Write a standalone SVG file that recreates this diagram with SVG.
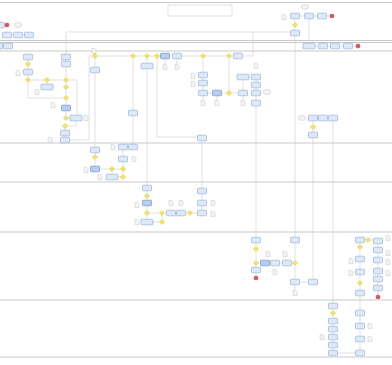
<svg xmlns="http://www.w3.org/2000/svg" xmlns:xlink="http://www.w3.org/1999/xlink" width="392" height="365" viewBox="0 0 392 365">
<style>
.lane{stroke:#c9c9c9;stroke-width:1;fill:none}
.c{stroke:#cdcdcd;stroke-width:0.6;fill:none}
.t{fill:#dfe8f7;stroke:#85a9dc;stroke-width:0.6}
.td{fill:#b9cdee;stroke:#5f88c9;stroke-width:0.6}
.g{fill:#f4e45e;stroke:#c8b43c;stroke-width:0.4}
.e{fill:#e2504f;stroke:#b83434;stroke-width:0.5}
.d{fill:#f4f4f4;stroke:#b9b9b9;stroke-width:0.4}
.box{fill:#fff;stroke:#c3c3c3;stroke-width:0.5}
</style>
<defs>
<rect id="T" x="-4.5" y="-2.8" width="9" height="5.6" rx="0.8"/>
<rect id="W" x="-6" y="-2.8" width="12" height="5.6" rx="0.8"/>
<path id="G" d="M0,-2.6L2.6,0L0,2.6L-2.6,0Z"/>
<circle id="E" r="2"/>
<path id="D" d="M-2,-2.6H0.8L2,-1.4V2.6H-2Z"/>
<ellipse id="C" rx="3.8" ry="2.4"/>
</defs>
<rect width="392" height="365" fill="#fff"/>
<g id="lanes">
<line class="lane" x1="0" y1="2.5" x2="392" y2="2.5"/>
<line class="lane" x1="0" y1="40.5" x2="392" y2="40.5"/>
<line class="lane" x1="0" y1="42.5" x2="392" y2="42.5"/>
<line class="lane" x1="0" y1="51" x2="392" y2="51"/>
<line class="lane" x1="0" y1="143" x2="392" y2="143"/>
<line class="lane" x1="0" y1="182" x2="392" y2="182"/>
<line class="lane" x1="0" y1="232" x2="392" y2="232"/>
<line class="lane" x1="0" y1="300" x2="392" y2="300"/>
<line class="lane" x1="0" y1="357" x2="392" y2="357"/>
</g>
<g id="title"><rect class="box" x="168" y="5" width="64" height="11"/></g>
<g id="connectors">
<path class="c" d="M4.5,25H5M11.5,35H13.5M22.5,35H24.5"/>
<path class="c" d="M66,54.2V32H295M295,18.8V22.4M295,27.6V30.2M299.5,16H304.5M313.5,16H317.5M326.5,16H330"/>
<path class="c" d="M309,18.8V43.2M313.5,46H318.5M327.5,46H330.5M339.5,46H343.5M352.5,46H356"/>
<path class="c" d="M295,35.8V237.2"/>
<path class="c" d="M28,59.8V61.4M28,66.6V69.2M28,74.8V77.4M30.6,80H44.4M49.6,80H63.4M47,82.6V84.2M28,82.6V98H63.4M66,59.8V61.2M66,66.8V77.4M66,82.6V84.4M66,89.6V95.4M66,100.6V105.2M66,110.8V115.4M68.6,118H70M68.6,80H77V115.2"/>
<path class="c" d="M76,120.8V126H67.6M65,128.6V130.2M65,135.8V137.2M69.5,140H89V56H92.4"/>
<path class="c" d="M97.6,56H130.4M135.6,56H144.4M149.6,56H154.4M159.6,56H160.5M169.5,56H172.5M181.5,56H200.4M205.6,56H226.4M231.6,56H233.5"/>
<path class="c" d="M95,58.6V67.2M95,72.8V147.2M95,152.8V154.4M95,159.6V166.2"/>
<path class="c" d="M133,58.6V110.2M133,115.8V144.2M147,58.6V63.2M147,68.8V185.2M157,58.6V137H197.5"/>
<path class="c" d="M165,58.8V64.5M177,58.8V64.5M242.5,56H253V32"/>
<path class="c" d="M203,58.6V72.2M203,77.8V80.2M203,85.8V90.2M207.5,93H212.5M221.5,93H226.4M231.6,93H238.5M229,58.6V90.4M243,79.8V90.2M249,77H251.5M256,79.8V82.2M256,87.8V90.2M256,95.8V100.2M256,105.8V237.2M203,95.8V100.4M217,95.8V100.4M243,95.8V100.4"/>
<path class="c" d="M313,120.8V124.4M313,129.6V132.2M313,137.8V279.2M317.5,118H318.5M327.5,118H328.5M333,120.8V303.2"/>
<path class="c" d="M127.5,147H128.5M123,149.8V156.2M123,161.8V166.4M99.5,169H109.4M114.6,169H120.4M123,171.6V174.4M118,177H120.4M112,171.6V174.2"/>
<path class="c" d="M147,190.8V193.4M147,198.6V200.2M147,205.8V210.4M149.6,213H159.4M164.6,213H166.5M175.5,213H176.5M185.5,213H187.4M192.6,213H197.5M147,215.6V219.2M153,222H159.4M162,219.4V215.6M202,140.8V188.2M202,193.8V200.2M202,205.8V210.2"/>
<path class="c" d="M256,242.8V246.4M256,251.6V260.4M258.6,263H260.5M269.5,263H270.5M279.5,263H282.5M291.5,263H292.4M256,265.6V267.2M256,272.8V276M295,242.8V260.4M295,265.6V279.2M299.5,282H308.5M295,284.8V290.4"/>
<path class="c" d="M360,242.8V244.4M360,249.6V256.2M360,261.8V269.2M360,274.8V280.4M360,285.6V290.2M360,295.8V310.2M360,315.8V323.2M360,328.8V336.2M360,341.8V350.2M364.5,240H365.4M370.6,240H373.5M378,243.8V247.2M378,252.8V257.2M378,262.8V268.2M378,273.8V276.2M378,281.8V285.2M378,290.8V295"/>
<path class="c" d="M333,308.8V310.4M333,315.6V318.2M333,323.8V326.2M333,331.8V334.2M333,339.8V342.2M333,347.8V350.2M337.5,353H355.5"/>
</g>
<g id="top-lane">
<g id="n1"><use href="#T" class="t" x="0" y="25"/></g>
<g id="n2"><use href="#E" class="e" x="7" y="25"/></g>
<g id="n3"><use href="#C" class="d" x="18" y="25"/></g>
<g id="n4"><use href="#T" class="t" x="7" y="35"/></g>
<g id="n5"><use href="#T" class="t" x="18" y="35"/></g>
<g id="n6"><use href="#T" class="t" x="29" y="35"/></g>
<g id="n7"><use href="#C" class="d" x="305" y="7"/></g>
<g id="n8"><use href="#D" class="d" x="284" y="17"/></g>
<g id="n9"><use href="#T" class="t" x="295" y="16"/></g>
<g id="n10"><use href="#T" class="t" x="309" y="16"/></g>
<g id="n11"><use href="#T" class="t" x="322" y="16"/></g>
<g id="n12"><use href="#E" class="e" x="332" y="16"/></g>
<g id="n13"><use href="#G" class="g" x="295" y="25"/></g>
<g id="n14"><use href="#T" class="t" x="295" y="33"/></g>
</g>
<g id="lane2">
<g id="n15"><use href="#T" class="t" x="-2" y="46"/></g>
<g id="n16"><use href="#T" class="t" x="8" y="46"/></g>
<g id="n17"><use href="#W" class="t" x="309" y="46"/></g>
<g id="n18"><use href="#T" class="t" x="323" y="46"/></g>
<g id="n19"><use href="#T" class="t" x="335" y="46"/></g>
<g id="n20"><use href="#T" class="t" x="348" y="46"/></g>
<g id="n21"><use href="#E" class="e" x="358" y="46"/></g>
</g>
<g id="lane3">
<g id="n22"><use href="#T" class="t" x="28" y="57"/></g>
<g id="n23"><use href="#G" class="g" x="28" y="64"/></g>
<g id="n24"><use href="#T" class="t" x="28" y="72"/></g>
<g id="n25"><use href="#D" class="d" x="18" y="73"/></g>
<g id="n26"><use href="#G" class="g" x="28" y="80"/></g>
<g id="n27"><use href="#G" class="g" x="47" y="80"/></g>
<g id="n28"><use href="#W" class="t" x="47" y="87"/></g>
<g id="n29"><use href="#D" class="d" x="37" y="92"/></g>
<g id="n30"><use href="#T" class="t" x="66" y="57"/></g>
<g id="n31"><use href="#T" class="t" x="66" y="64"/></g>
<g id="n32"><use href="#G" class="g" x="66" y="80"/></g>
<g id="n33"><use href="#G" class="g" x="66" y="87"/></g>
<g id="n34"><use href="#G" class="g" x="66" y="98"/></g>
<g id="n35"><use href="#T" class="td" x="66" y="108"/></g>
<g id="n36"><use href="#D" class="d" x="53" y="105"/></g>
<g id="n37"><use href="#G" class="g" x="66" y="118"/></g>
<g id="n38"><use href="#W" class="t" x="76" y="118"/></g>
<g id="n39"><use href="#D" class="d" x="86" y="118"/></g>
<g id="n40"><use href="#G" class="g" x="65" y="126"/></g>
<g id="n41"><use href="#T" class="t" x="65" y="133"/></g>
<g id="n42"><use href="#T" class="t" x="65" y="140"/></g>
<g id="n43"><use href="#D" class="d" x="50" y="140"/></g>
<g id="n44"><use href="#D" class="d" x="94" y="51"/></g>
<g id="n45"><use href="#G" class="g" x="95" y="56"/></g>
<g id="n46"><use href="#T" class="t" x="95" y="70"/></g>
<g id="n47"><use href="#G" class="g" x="133" y="56"/></g>
<g id="n48"><use href="#T" class="t" x="133" y="113"/></g>
<g id="n49"><use href="#G" class="g" x="147" y="56"/></g>
<g id="n50"><use href="#W" class="t" x="147" y="66"/></g>
<g id="n51"><use href="#G" class="g" x="157" y="56"/></g>
<g id="n52"><use href="#T" class="td" x="165" y="56"/></g>
<g id="n53"><use href="#T" class="t" x="177" y="56"/></g>
<g id="n54"><use href="#D" class="d" x="165" y="67"/></g>
<g id="n55"><use href="#D" class="d" x="177" y="67"/></g>
<g id="n56"><use href="#D" class="d" x="193" y="76"/></g>
<g id="n57"><use href="#D" class="d" x="193" y="84"/></g>
<g id="n58"><use href="#G" class="g" x="203" y="56"/></g>
<g id="n59"><use href="#T" class="t" x="203" y="75"/></g>
<g id="n60"><use href="#T" class="t" x="203" y="83"/></g>
<g id="n61"><use href="#T" class="t" x="203" y="93"/></g>
<g id="n62"><use href="#D" class="d" x="203" y="103"/></g>
<g id="n63"><use href="#T" class="td" x="217" y="93"/></g>
<g id="n64"><use href="#D" class="d" x="217" y="103"/></g>
<g id="n65"><use href="#G" class="g" x="229" y="56"/></g>
<g id="n66"><use href="#G" class="g" x="229" y="93"/></g>
<g id="n67"><use href="#T" class="t" x="238" y="56"/></g>
<g id="n68"><use href="#W" class="t" x="243" y="77"/></g>
<g id="n69"><use href="#T" class="t" x="243" y="93"/></g>
<g id="n70"><use href="#D" class="d" x="243" y="103"/></g>
<g id="n71"><use href="#D" class="d" x="256" y="66"/></g>
<g id="n72"><use href="#T" class="t" x="256" y="77"/></g>
<g id="n73"><use href="#T" class="t" x="256" y="85"/></g>
<g id="n74"><use href="#T" class="t" x="256" y="93"/></g>
<g id="n75"><use href="#T" class="t" x="256" y="103"/></g>
<g id="n76"><use href="#C" class="d" x="267" y="92"/></g>
<g id="n77"><use href="#C" class="d" x="302" y="118"/></g>
<g id="n78"><use href="#T" class="t" x="313" y="118"/></g>
<g id="n79"><use href="#T" class="t" x="323" y="118"/></g>
<g id="n80"><use href="#T" class="t" x="333" y="118"/></g>
<g id="n81"><use href="#G" class="g" x="313" y="127"/></g>
<g id="n82"><use href="#T" class="t" x="313" y="135"/></g>
</g>
<g id="lane4">
<g id="n83"><use href="#T" class="t" x="95" y="150"/></g>
<g id="n84"><use href="#G" class="g" x="95" y="157"/></g>
<g id="n85"><use href="#T" class="td" x="95" y="169"/></g>
<g id="n86"><use href="#D" class="d" x="86" y="170"/></g>
<g id="n87"><use href="#D" class="d" x="113" y="147"/></g>
<g id="n88"><use href="#T" class="t" x="123" y="147"/></g>
<g id="n89"><use href="#T" class="t" x="133" y="147"/></g>
<g id="n90"><use href="#T" class="t" x="123" y="159"/></g>
<g id="n91"><use href="#D" class="d" x="134" y="159"/></g>
<g id="n92"><use href="#G" class="g" x="112" y="169"/></g>
<g id="n93"><use href="#G" class="g" x="123" y="169"/></g>
<g id="n94"><use href="#W" class="t" x="112" y="177"/></g>
<g id="n95"><use href="#G" class="g" x="123" y="177"/></g>
<g id="n96"><use href="#D" class="d" x="100" y="177"/></g>
</g>
<g id="lane5">
<g id="n97"><use href="#T" class="t" x="147" y="188"/></g>
<g id="n98"><use href="#G" class="g" x="147" y="196"/></g>
<g id="n99"><use href="#T" class="td" x="147" y="203"/></g>
<g id="n100"><use href="#D" class="d" x="137" y="205"/></g>
<g id="n101"><use href="#G" class="g" x="147" y="213"/></g>
<g id="n102"><use href="#G" class="g" x="162" y="213"/></g>
<g id="n103"><use href="#T" class="t" x="171" y="213"/></g>
<g id="n104"><use href="#T" class="t" x="181" y="213"/></g>
<g id="n105"><use href="#G" class="g" x="190" y="213"/></g>
<g id="n106"><use href="#D" class="d" x="171" y="203"/></g>
<g id="n107"><use href="#D" class="d" x="181" y="203"/></g>
<g id="n108"><use href="#W" class="t" x="147" y="222"/></g>
<g id="n109"><use href="#G" class="g" x="162" y="222"/></g>
<g id="n110"><use href="#D" class="d" x="137" y="222"/></g>
<g id="n111"><use href="#T" class="t" x="202" y="138"/></g>
<g id="n112"><use href="#T" class="t" x="202" y="191"/></g>
<g id="n113"><use href="#T" class="t" x="202" y="203"/></g>
<g id="n114"><use href="#T" class="t" x="202" y="213"/></g>
<g id="n115"><use href="#D" class="d" x="213" y="203"/></g>
<g id="n116"><use href="#D" class="d" x="213" y="214"/></g>
</g>
<g id="lane6">
<g id="n117"><use href="#T" class="t" x="256" y="240"/></g>
<g id="n118"><use href="#G" class="g" x="256" y="249"/></g>
<g id="n119"><use href="#G" class="g" x="256" y="263"/></g>
<g id="n120"><use href="#T" class="td" x="265" y="263"/></g>
<g id="n121"><use href="#T" class="t" x="275" y="263"/></g>
<g id="n122"><use href="#T" class="t" x="287" y="263"/></g>
<g id="n123"><use href="#T" class="t" x="256" y="270"/></g>
<g id="n124"><use href="#E" class="e" x="256" y="278"/></g>
<g id="n125"><use href="#D" class="d" x="268" y="254"/></g>
<g id="n126"><use href="#D" class="d" x="275" y="272"/></g>
<g id="n127"><use href="#D" class="d" x="285" y="254"/></g>
<g id="n128"><use href="#T" class="t" x="295" y="240"/></g>
<g id="n129"><use href="#G" class="g" x="295" y="263"/></g>
<g id="n130"><use href="#T" class="t" x="295" y="282"/></g>
<g id="n131"><use href="#T" class="t" x="313" y="282"/></g>
<g id="n132"><use href="#D" class="d" x="295" y="293"/></g>
<g id="n133"><use href="#T" class="t" x="360" y="240"/></g>
<g id="n134"><use href="#G" class="g" x="360" y="247"/></g>
<g id="n135"><use href="#T" class="t" x="360" y="259"/></g>
<g id="n136"><use href="#D" class="d" x="351" y="261"/></g>
<g id="n137"><use href="#T" class="t" x="360" y="272"/></g>
<g id="n138"><use href="#D" class="d" x="351" y="273"/></g>
<g id="n139"><use href="#G" class="g" x="360" y="283"/></g>
<g id="n140"><use href="#T" class="t" x="360" y="293"/></g>
<g id="n141"><use href="#G" class="g" x="368" y="240"/></g>
<g id="n142"><use href="#T" class="t" x="378" y="241"/></g>
<g id="n143"><use href="#T" class="t" x="378" y="250"/></g>
<g id="n144"><use href="#T" class="t" x="378" y="260"/></g>
<g id="n145"><use href="#T" class="t" x="378" y="271"/></g>
<g id="n146"><use href="#T" class="t" x="378" y="279"/></g>
<g id="n147"><use href="#T" class="t" x="378" y="288"/></g>
<g id="n148"><use href="#E" class="e" x="378" y="297"/></g>
<g id="n149"><use href="#D" class="d" x="388" y="238"/></g>
<g id="n150"><use href="#D" class="d" x="388" y="253"/></g>
<g id="n151"><use href="#D" class="d" x="388" y="262"/></g>
<g id="n152"><use href="#D" class="d" x="388" y="273"/></g>
</g>
<g id="lane7">
<g id="n153"><use href="#T" class="t" x="333" y="306"/></g>
<g id="n154"><use href="#G" class="g" x="333" y="313"/></g>
<g id="n155"><use href="#T" class="t" x="333" y="321"/></g>
<g id="n156"><use href="#T" class="t" x="333" y="329"/></g>
<g id="n157"><use href="#T" class="t" x="333" y="337"/></g>
<g id="n158"><use href="#T" class="t" x="333" y="345"/></g>
<g id="n159"><use href="#T" class="t" x="333" y="353"/></g>
<g id="n160"><use href="#D" class="d" x="322" y="337"/></g>
<g id="n161"><use href="#T" class="t" x="360" y="313"/></g>
<g id="n162"><use href="#T" class="t" x="360" y="326"/></g>
<g id="n163"><use href="#D" class="d" x="370" y="326"/></g>
<g id="n164"><use href="#T" class="t" x="360" y="339"/></g>
<g id="n165"><use href="#D" class="d" x="370" y="339"/></g>
<g id="n166"><use href="#T" class="t" x="360" y="353"/></g>
</g>
</svg>
